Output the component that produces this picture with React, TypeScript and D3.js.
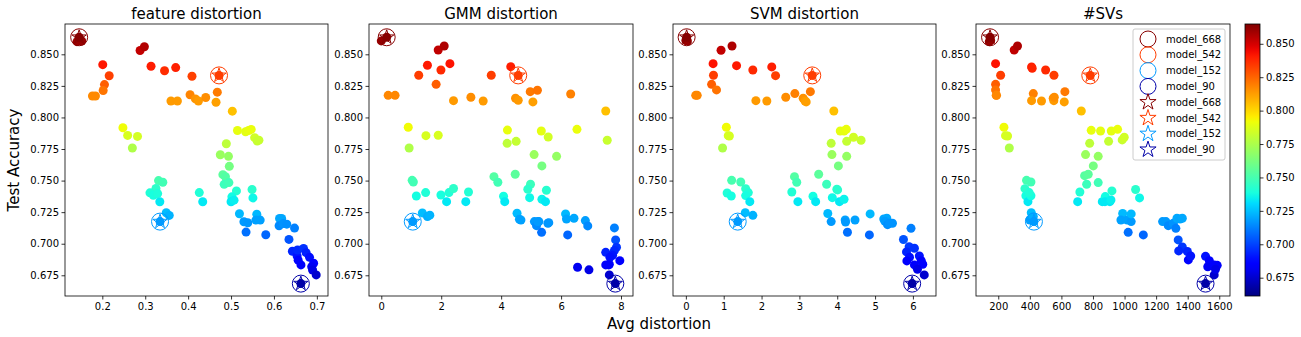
import React, { useEffect, useRef } from 'react';
import * as d3 from 'd3';

// [avg distortion, test accuracy] per panel
const featureDist: [number, number][] = [
  [0.141, 0.860], [0.152, 0.8605], [0.288, 0.853], [0.298, 0.856], [0.201, 0.8418], [0.3135, 0.8405],
  [0.345, 0.837], [0.371, 0.8395], [0.216, 0.833], [0.409, 0.8326], [0.205, 0.826], [0.202, 0.8213],
  [0.177, 0.817], [0.184, 0.817], [0.4045, 0.818], [0.417, 0.8147], [0.424, 0.813], [0.441, 0.8158],
  [0.468, 0.820], [0.465, 0.812], [0.360, 0.813], [0.375, 0.813], [0.503, 0.805], [0.248, 0.7918],
  [0.259, 0.7858], [0.282, 0.785], [0.270, 0.7758], [0.515, 0.7897], [0.534, 0.7887], [0.541, 0.7897],
  [0.547, 0.7905], [0.555, 0.784], [0.561, 0.7813], [0.565, 0.782], [0.489, 0.7792], [0.475, 0.7705],
  [0.494, 0.7692], [0.496, 0.7613], [0.481, 0.7547], [0.487, 0.753], [0.484, 0.747], [0.495, 0.7484],
  [0.331, 0.750], [0.341, 0.7487], [0.325, 0.7437], [0.311, 0.7403], [0.319, 0.7384], [0.329, 0.7397],
  [0.334, 0.7332], [0.426, 0.7405], [0.434, 0.7332], [0.5126, 0.7418], [0.502, 0.7371], [0.500, 0.7332],
  [0.507, 0.7345], [0.549, 0.7429], [0.551, 0.7363], [0.349, 0.7245], [0.356, 0.7224], [0.5196, 0.7237],
  [0.530, 0.7174], [0.539, 0.7166], [0.535, 0.7092], [0.560, 0.7234], [0.558, 0.7187], [0.568, 0.7187],
  [0.581, 0.7071], [0.613, 0.720], [0.618, 0.720], [0.612, 0.7142], [0.622, 0.716], [0.630, 0.7155],
  [0.648, 0.7124], [0.635, 0.7034], [0.643, 0.694], [0.654, 0.6903], [0.663, 0.6832], [0.655, 0.695],
  [0.6565, 0.687], [0.669, 0.6963], [0.675, 0.6929], [0.683, 0.6892], [0.6925, 0.6845], [0.688, 0.6818],
  [0.690, 0.6792], [0.6985, 0.6753],
];

const gmmDist: [number, number][] = [
  [0.0, 0.8606], [1.90, 0.8534], [2.10, 0.8566], [1.54, 0.8413], [1.25, 0.8334], [1.99, 0.8376],
  [2.29, 0.8426], [1.83, 0.8262], [3.67, 0.8334], [4.32, 0.8402], [0.23, 0.8175], [0.46, 0.8175],
  [2.41, 0.8133], [2.99, 0.816], [3.40, 0.813], [4.48, 0.8152], [4.57, 0.8136], [4.97, 0.8204],
  [5.21, 0.8215], [5.06, 0.8123], [6.32, 0.8186], [7.49, 0.8051], [0.90, 0.7922], [0.93, 0.7758],
  [1.49, 0.7856], [1.90, 0.7859], [4.21, 0.790], [4.20, 0.7795], [4.50, 0.7811], [5.34, 0.7893],
  [5.57, 0.7845], [6.53, 0.7906], [7.54, 0.7819], [5.10, 0.7706], [5.36, 0.7616], [5.85, 0.7692],
  [1.03, 0.7502], [1.07, 0.7489], [3.76, 0.7531], [3.89, 0.7487], [4.47, 0.755], [4.98, 0.7471],
  [4.89, 0.7431], [4.95, 0.7365], [5.51, 0.7423], [5.36, 0.7352], [5.48, 0.7333], [1.17, 0.7378],
  [1.48, 0.7405], [1.99, 0.7386], [2.18, 0.7333], [2.26, 0.7405], [2.41, 0.7437], [2.82, 0.7333],
  [2.91, 0.741], [4.08, 0.7376], [4.12, 0.7333], [1.37, 0.7244], [1.54, 0.7215], [1.62, 0.7226],
  [4.53, 0.7241], [4.61, 0.7194], [4.66, 0.7188], [5.11, 0.7175], [5.26, 0.7175], [5.18, 0.7143],
  [5.35, 0.709], [5.22, 0.7175], [5.56, 0.7162], [5.59, 0.7167], [6.15, 0.7236], [6.18, 0.7196],
  [6.43, 0.7202], [6.22, 0.707], [6.81, 0.7183], [6.89, 0.7141], [6.55, 0.6814], [6.93, 0.6793],
  [7.78, 0.7125], [7.82, 0.703], [7.49, 0.6932], [7.85, 0.6972], [7.78, 0.6946], [7.72, 0.6909],
  [7.61, 0.6837], [7.49, 0.6832], [7.63, 0.6893], [7.96, 0.6866], [7.59, 0.6832], [7.61, 0.6753],
];

const svmDist: [number, number][] = [
  [0.0, 0.861], [0.04, 0.8605], [0.93, 0.8532], [1.22, 0.8566], [0.72, 0.8426], [0.73, 0.8334],
  [1.34, 0.841], [1.77, 0.8376], [2.27, 0.840], [2.37, 0.8331], [0.68, 0.8262], [0.81, 0.8218],
  [0.26, 0.8175], [0.30, 0.8175], [1.85, 0.8133], [2.14, 0.813], [2.64, 0.816], [2.88, 0.8189],
  [3.10, 0.8152], [3.15, 0.813], [3.18, 0.8123], [3.29, 0.8204], [3.91, 0.8051], [1.07, 0.7922],
  [1.12, 0.7856], [1.15, 0.7853], [0.97, 0.7758], [4.08, 0.7893], [4.18, 0.7893], [4.24, 0.7906],
  [4.43, 0.7843], [4.63, 0.7819], [4.25, 0.7811], [3.84, 0.7795], [3.86, 0.7706], [4.25, 0.7692],
  [4.03, 0.7616], [3.51, 0.755], [2.87, 0.7531], [2.93, 0.7487], [1.21, 0.7502], [1.45, 0.7489],
  [1.58, 0.7436], [1.65, 0.7405], [1.58, 0.7381], [1.69, 0.7333], [1.09, 0.7402], [1.20, 0.7378],
  [2.80, 0.741], [2.96, 0.7333], [3.36, 0.7376], [3.43, 0.7333], [3.72, 0.7471], [3.99, 0.7431],
  [4.01, 0.7426], [3.87, 0.7365], [4.06, 0.7333], [4.18, 0.7352], [1.57, 0.7246], [1.77, 0.7225],
  [3.75, 0.7239], [3.84, 0.7175], [4.21, 0.7188], [4.22, 0.7172], [4.27, 0.7091], [4.47, 0.7188],
  [4.87, 0.7236], [4.85, 0.707], [5.23, 0.7196], [5.31, 0.7202], [5.26, 0.7178], [5.33, 0.7151],
  [5.38, 0.7162], [5.46, 0.7162], [5.95, 0.7122], [5.75, 0.7033], [5.90, 0.6977], [5.83, 0.6935],
  [5.91, 0.6893], [5.84, 0.6864], [6.04, 0.6964], [6.17, 0.6903], [6.22, 0.6866], [6.26, 0.6837],
  [6.04, 0.6832], [6.12, 0.6798], [6.30, 0.6753],
];

const numSVs: [number, number][] = [
  [143, 0.860], [152, 0.861], [301, 0.8534], [322, 0.8566], [183, 0.8426], [215, 0.8334],
  [411, 0.840], [415, 0.839], [500, 0.8376], [553, 0.8334], [183, 0.8262], [183, 0.8218],
  [187, 0.8175], [189, 0.8175], [422, 0.8189], [411, 0.8133], [474, 0.813], [548, 0.8152],
  [552, 0.8133], [555, 0.816], [622, 0.8204], [618, 0.8123], [726, 0.8051], [236, 0.7922],
  [246, 0.7856], [259, 0.7853], [270, 0.7758], [789, 0.7898], [848, 0.7893], [916, 0.7893],
  [956, 0.7906], [985, 0.7822], [998, 0.7843], [899, 0.7811], [779, 0.7795], [753, 0.7706],
  [833, 0.7692], [802, 0.7616], [747, 0.7539], [770, 0.755], [760, 0.7471], [833, 0.7484],
  [717, 0.741], [703, 0.7333], [859, 0.7333], [878, 0.7373], [876, 0.7333], [907, 0.7333],
  [920, 0.7418], [914, 0.7347], [1070, 0.7429], [1095, 0.7363], [379, 0.7502], [407, 0.7489],
  [369, 0.7436], [375, 0.738], [388, 0.7333], [407, 0.738], [396, 0.7405], [409, 0.7246],
  [400, 0.7188], [422, 0.7215], [988, 0.7239], [977, 0.7188], [1017, 0.7188], [1042, 0.7175],
  [1023, 0.709], [1042, 0.7236], [1119, 0.707], [1241, 0.7175], [1262, 0.7175], [1277, 0.7143],
  [1309, 0.7162], [1332, 0.7202], [1351, 0.7196], [1366, 0.7202], [1325, 0.7122], [1340, 0.703],
  [1366, 0.6975], [1343, 0.6943], [1398, 0.6938], [1404, 0.6872], [1419, 0.6903], [1513, 0.69],
  [1537, 0.6866], [1527, 0.6818], [1568, 0.6832], [1587, 0.6829], [1568, 0.6753], [1576, 0.6798],
];

const models = ['model_668', 'model_542', 'model_152', 'model_90'];
const modelAcc = [0.8635, 0.8333, 0.7175, 0.6684];
// x of each highlighted model, one array per panel
const modelFeature = [0.146, 0.472, 0.3345, 0.6627];
const modelGmm = [0.18, 4.57, 1.05, 7.81];
const modelSvm = [0.02, 3.34, 1.37, 5.98];
const modelSVs = [148, 783, 426, 1513];

const titles = ['feature distortion', 'GMM distortion', 'SVM distortion', '#SVs'];
const yTicks = [0.675, 0.7, 0.725, 0.75, 0.775, 0.8, 0.825, 0.85];

const panels = [
  { data: featureDist, hx: modelFeature, domain: [0.113, 0.726], ticks: [0.2, 0.3, 0.4, 0.5, 0.6, 0.7], fmt: d3.format('.1f'), left: 65, right: 328 },
  { data: gmmDist, hx: modelGmm, domain: [-0.41, 8.4], ticks: [0, 2, 4, 6, 8], fmt: d3.format('d'), left: 369, right: 633 },
  { data: svmDist, hx: modelSvm, domain: [-0.34, 6.61], ticks: [0, 1, 2, 3, 4, 5, 6], fmt: d3.format('d'), left: 673, right: 936 },
  { data: numSVs, hx: modelSVs, domain: [59, 1668], ticks: [200, 400, 600, 800, 1000, 1200, 1400, 1600], fmt: d3.format('d'), left: 976, right: 1230 },
];

// matplotlib jet colormap
const jr = d3.scaleLinear().domain([0, 0.35, 0.66, 0.89, 1]).range([0, 0, 1, 1, 0.5]).clamp(true);
const jg = d3.scaleLinear().domain([0, 0.125, 0.375, 0.64, 0.91, 1]).range([0, 0, 1, 1, 0, 0]).clamp(true);
const jb = d3.scaleLinear().domain([0, 0.11, 0.34, 0.65, 1]).range([0.5, 1, 1, 0, 0]).clamp(true);
const jet = (t: number) => d3.rgb(jr(t) * 255, jg(t) * 255, jb(t) * 255).formatHex();

const FONT = 'DejaVu Sans, sans-serif';

function starPath(r: number) {
  const pts: [number, number][] = [];
  for (let i = 0; i < 10; i++) {
    const a = (Math.PI / 5) * i - Math.PI / 2;
    const rr = i % 2 === 0 ? r : r * 0.38;
    pts.push([rr * Math.cos(a), rr * Math.sin(a)]);
  }
  return 'M' + pts.map(p => p.join(',')).join('L') + 'Z';
}

export default function App() {
  const svgRef = useRef<SVGSVGElement>(null);

  useEffect(() => {
    const svg = d3.select(svgRef.current);
    svg.selectAll('*').remove();

    const top = 24, bottom = 296;
    const y = d3.scaleLinear().domain([0.6586, 0.874]).range([bottom, top]);
    const cNorm = d3.scaleLinear().domain([0.6613, 0.8648]).range([0, 1]).clamp(true);
    const color = (v: number) => jet(cNorm(v));

    panels.forEach((p, i) => {
      const x = d3.scaleLinear().domain(p.domain).range([p.left, p.right]);
      const g = svg.append('g');

      g.selectAll('circle.pt')
        .data(p.data.concat(p.hx.map((v, k) => [v, modelAcc[k]] as [number, number])))
        .join('circle')
        .attr('cx', d => x(d[0]))
        .attr('cy', d => y(d[1]))
        .attr('r', 4.5)
        .attr('fill', d => color(d[1]));

      // highlighted models: hollow ring + star
      p.hx.forEach((v, k) => {
        const c = color(modelAcc[k]);
        g.append('circle')
          .attr('cx', x(v)).attr('cy', y(modelAcc[k])).attr('r', 8.5)
          .attr('fill', 'none').attr('stroke', c).attr('stroke-width', 1);
        g.append('path')
          .attr('d', starPath(7.5))
          .attr('transform', `translate(${x(v)},${y(modelAcc[k])})`)
          .attr('fill', 'none').attr('stroke', c).attr('stroke-width', 1);
      });

      const xAxis = g.append('g')
        .attr('transform', `translate(0,${bottom})`)
        .call(d3.axisBottom(x).tickValues(p.ticks).tickFormat(d => p.fmt(d as number)).tickSize(3.5).tickSizeOuter(0));
      const yAxis = g.append('g')
        .attr('transform', `translate(${p.left},0)`)
        .call(d3.axisLeft(y).tickValues(yTicks).tickFormat(d3.format('.3f')).tickSize(3.5).tickSizeOuter(0));
      [xAxis, yAxis].forEach(a => {
        a.select('.domain').remove();
        a.selectAll('text').attr('font-family', FONT).attr('font-size', 10).attr('fill', '#000');
        a.selectAll('line').attr('stroke', '#000').attr('stroke-width', 0.8);
      });
      xAxis.selectAll('text').attr('dy', '0.71em').attr('y', 7);
      yAxis.selectAll('text').attr('x', -6);

      g.append('rect')
        .attr('x', p.left).attr('y', top)
        .attr('width', p.right - p.left).attr('height', bottom - top)
        .attr('fill', 'none').attr('stroke', '#000').attr('stroke-width', 0.8);

      g.append('text')
        .attr('x', (p.left + p.right) / 2).attr('y', 19)
        .attr('text-anchor', 'middle')
        .attr('font-family', FONT).attr('font-size', 15)
        .text(titles[i]);
    });

    // legend
    const lg = svg.append('g');
    lg.append('rect')
      .attr('x', 1133).attr('y', 29).attr('width', 92).attr('height', 131).attr('rx', 2)
      .attr('fill', '#fff').attr('fill-opacity', 0.8).attr('stroke', '#ccc');
    const rows = models.map((m, k) => ({ m, k, star: false })).concat(models.map((m, k) => ({ m, k, star: true })));
    rows.forEach((r, j) => {
      const cy = 39 + j * 15.8;
      const c = color(modelAcc[r.k]);
      if (r.star) {
        lg.append('path').attr('d', starPath(8.5)).attr('transform', `translate(1148,${cy})`)
          .attr('fill', 'none').attr('stroke', c).attr('stroke-width', 1);
      } else {
        lg.append('circle').attr('cx', 1148).attr('cy', cy).attr('r', 8)
          .attr('fill', 'none').attr('stroke', c).attr('stroke-width', 1);
      }
      lg.append('text').attr('x', 1166).attr('y', cy).attr('dy', '0.35em')
        .attr('font-family', FONT).attr('font-size', 10).text(r.m);
    });

    // colorbar
    const cbL = 1245, cbW = 15;
    const cbScale = d3.scaleLinear().domain([0.6613, 0.8648]).range([bottom, top]);
    const grad = svg.append('defs').append('linearGradient')
      .attr('id', 'jetgrad').attr('x1', 0).attr('y1', 1).attr('x2', 0).attr('y2', 0);
    d3.range(0, 1.0001, 0.02).forEach(t => {
      grad.append('stop').attr('offset', t).attr('stop-color', jet(t));
    });
    svg.append('rect')
      .attr('x', cbL).attr('y', top).attr('width', cbW).attr('height', bottom - top)
      .attr('fill', 'url(#jetgrad)').attr('stroke', '#000').attr('stroke-width', 0.8);
    const cbAxis = svg.append('g')
      .attr('transform', `translate(${cbL + cbW},0)`)
      .call(d3.axisRight(cbScale).tickValues(yTicks).tickFormat(d3.format('.3f')).tickSize(3.5).tickSizeOuter(0));
    cbAxis.select('.domain').remove();
    cbAxis.selectAll('text').attr('font-family', FONT).attr('font-size', 10).attr('fill', '#000').attr('x', 6);
    cbAxis.selectAll('line').attr('stroke', '#000').attr('stroke-width', 0.8);

    // shared labels
    svg.append('text')
      .attr('transform', 'translate(19,160) rotate(-90)')
      .attr('text-anchor', 'middle')
      .attr('font-family', FONT).attr('font-size', 15)
      .text('Test Accuracy');
    svg.append('text')
      .attr('x', 659).attr('y', 329)
      .attr('text-anchor', 'middle')
      .attr('font-family', FONT).attr('font-size', 15)
      .text('Avg distortion');
  }, []);

  return (
    <svg ref={svgRef} width={1301} height={337}
      style={{ position: 'absolute', left: 0, top: 0, background: '#fff' }} />
  );
}
